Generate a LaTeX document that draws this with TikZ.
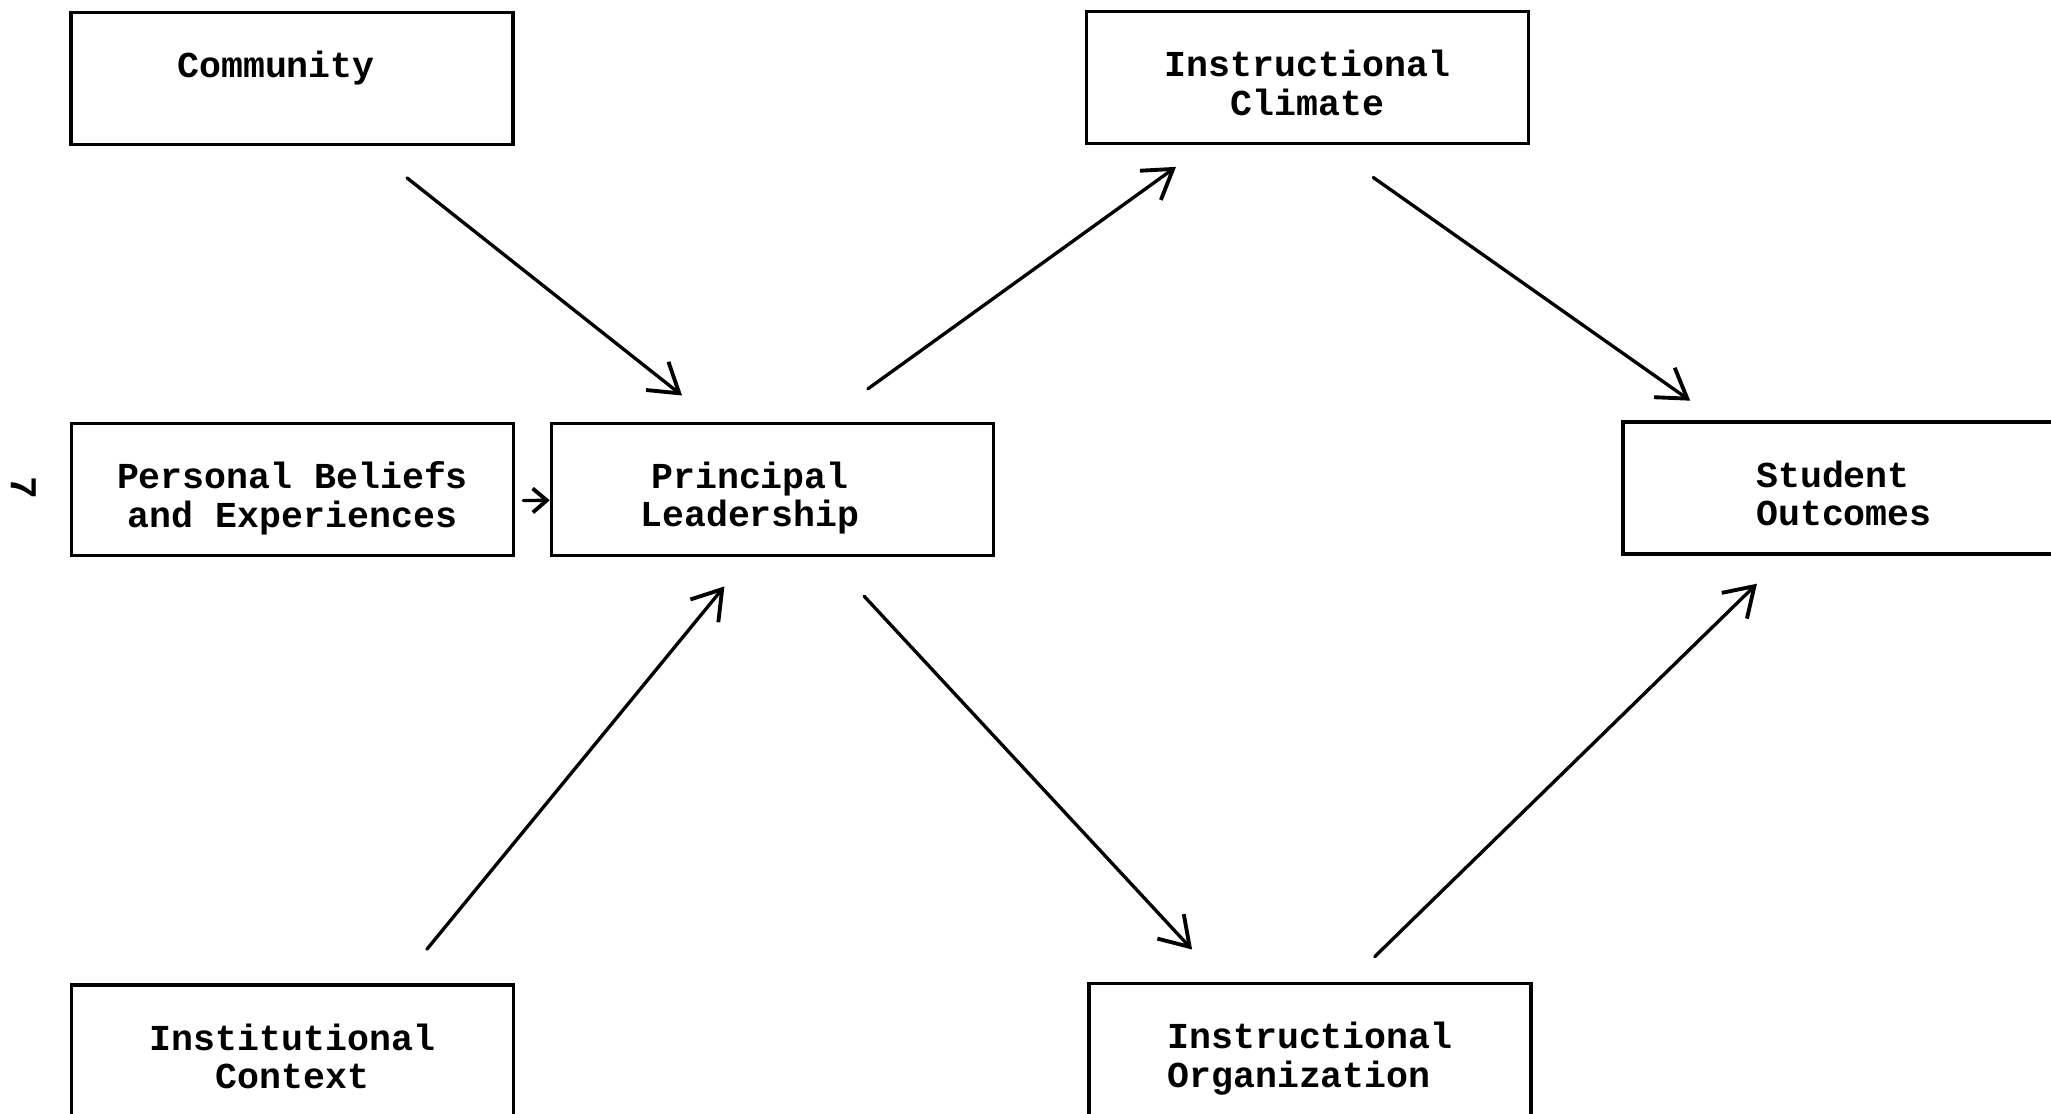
\documentclass[tikz,border=0pt]{standalone}
\usepackage{fontspec}
\setmonofont{Liberation Mono}
\usepackage{tikz}
\usetikzlibrary{arrows.meta}
\tikzset{
  factor/.style={
    draw=black,line width=1pt,
    minimum width=4.42cm,minimum height=1.32cm,inner sep=0pt,
    font=\ttfamily\bfseries\fontsize{10.4}{10.9}\selectfont,
    align=center,text height=23.8pt,text depth=2.4pt
  },
  path/.style={
    line width=0.95pt,line cap=round,
    -{Straight Barb[length=2.8mm,width=3.6mm,line width=1.1pt]}
  },
}
\begin{document}
\begin{tikzpicture}
  \useasboundingbox (0,0) rectangle (20.51,-11.14);
  \node[factor,text height=9pt,text depth=9.5pt] (comm) at (2.92,-0.785) {Community\hspace*{0.32cm}};
  \node[factor] (clim) at (13.075,-0.775) {Instructional\\Climate};
  \node[factor] (bel) at (2.925,-4.896) {Personal Beliefs\\and Experiences};
  \node[factor] (lead) at (7.725,-4.893) {Principal\hspace*{0.45cm}\\Leadership\hspace*{0.45cm}};
  \node[factor,align=left] (outc) at (18.44,-4.88) {Student\\Outcomes};
  \node[factor] (ctx) at (2.925,-10.51) {Institutional\\Context};
  \node[factor,align=left] (org) at (13.1,-10.495) {Instructional\\Organization};
  % page number at the margin
  \node[font=\ttfamily\bfseries\fontsize{10.8}{10.9}\selectfont,rotate=-90] (pg) at (0.235,-4.88) {7};
  \draw[path,shorten <=0.51cm,shorten >=0.42cm] ([xshift=0.75cm]comm.south) -- ([xshift=-0.575cm]lead.north);
  \draw[path,shorten <=0.56cm,shorten >=0.37cm] ([xshift=0.5cm]lead.north) -- ([xshift=-1.015cm]clim.south);
  \draw[path,shorten <=0.56cm,shorten >=0.34cm] ([xshift=0.2cm]clim.south) -- ([xshift=-1.26cm]outc.north);
  \draw[path,shorten <=0.08cm,-{Straight Barb[length=1.4mm,width=2.4mm,line width=1.1pt]}] ([yshift=-0.11cm]bel.east) -- ([yshift=-0.11cm]lead.west);
  \draw[path,shorten <=0.44cm,shorten >=0.38cm] ([xshift=1.065cm]ctx.north) -- ([xshift=-0.24cm]lead.south);
  \draw[path,shorten <=0.535cm,shorten >=0.44cm] ([xshift=0.553cm]lead.south) -- ([xshift=-0.88cm]org.north);
  \draw[path,shorten <=0.36cm,shorten >=0.40cm] ([xshift=0.39cm]org.north) -- ([xshift=-0.584cm]outc.south);
\end{tikzpicture}
\end{document}
